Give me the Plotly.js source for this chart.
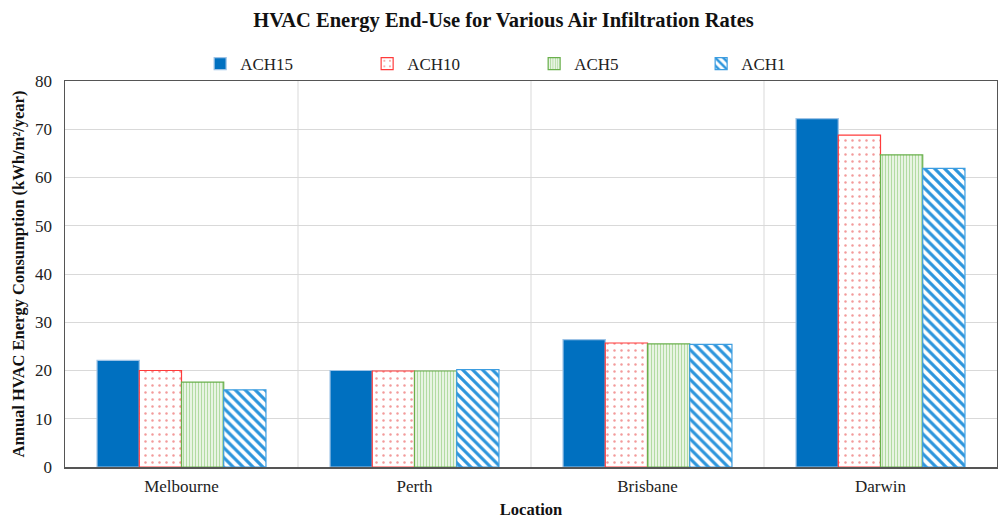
<!DOCTYPE html>
<html><head><meta charset="utf-8">
<script src="https://cdn.plot.ly/plotly-3.0.1.min.js"></script>
<style>body{margin:0;background:#fff}#c{width:998px;height:519px}</style>
</head><body><div id="c"></div>
<script>
const locations = ["Melbourne", "Perth", "Brisbane", "Darwin"];
const seriesNames = ["ACH15", "ACH10", "ACH5", "ACH1"];
const ach15 = [22.1, 20.0, 26.4, 72.2];
const ach10 = [20.0, 19.9, 25.7, 68.8];
const ach5  = [17.6, 19.9, 25.5, 64.7];
const ach1  = [16.0, 20.2, 25.4, 61.9];
const yTicks = [0, 10, 20, 30, 40, 50, 60, 70, 80];

const styles = [
  {color:'#0070C0', line:'#9dc3e6', pattern:null},
  {color:'#ffffff', line:'#ff3b3b', pattern:{shape:'.', fgcolor:'#f39a9a', bgcolor:'#ffffff', size:7, solidity:0.1}},
  {color:'#ffffff', line:'#6ab04c', pattern:{shape:'|', fgcolor:'#b2dba3', bgcolor:'#eef7ea', size:3, solidity:0.4}},
  {color:'#ffffff', line:'#3d9de0', pattern:{shape:'\\', fgcolor:'#2c95dc', bgcolor:'#ffffff', size:7, solidity:0.45}}
];
const vals = [ach15, ach10, ach5, ach1];
const traces = seriesNames.map((n,i)=>{
  const m = {color: styles[i].color, line:{color: styles[i].line, width:1.2}};
  if (styles[i].pattern) m.pattern = styles[i].pattern;
  return {type:'bar', name:n, x:locations, y:vals[i], marker:m};
});

const serif = 'Liberation Serif, Times New Roman, serif';
const layout = {
  width:998, height:519,
  margin:{l:65, r:1, t:81, b:52},
  paper_bgcolor:'#fff', plot_bgcolor:'#fff',
  font:{family:serif, size:17, color:'#222'},
  title:{text:'<b>HVAC Energy End-Use for Various Air Infiltration Rates</b>', x:0.5045, xanchor:'center', y:0.962, yanchor:'middle', font:{family:serif, size:20.5, color:'#111'}},
  barmode:'group', bargap:0.275, bargroupgap:0,
  legend:{orientation:'h', x:0.145, xanchor:'left', y:1.044, yanchor:'middle', entrywidth:122, bgcolor:'rgba(0,0,0,0)', font:{family:serif, size:17, color:'#222'}, itemwidth:30, traceorder:'normal'},
  xaxis:{
    type:'category', showgrid:false, showline:true, linecolor:'#555', linewidth:1.5, mirror:true,
    ticks:'', tickfont:{family:serif, size:17, color:'#222'}, ticklabelstandoff:3,
    title:{text:'<b>Location</b>', font:{family:serif, size:16.5, color:'#111'}, standoff:10}
  },
  yaxis:{
    range:[0,80], tickvals:yTicks, showgrid:true, gridcolor:'#d9d9d9', gridwidth:1,
    showline:true, linecolor:'#555', linewidth:1.5, mirror:true, zeroline:false,
    ticks:'', ticklen:0, tickfont:{family:serif, size:17, color:'#222'}, ticklabelstandoff:8,
    title:{text:'<b>Annual HVAC Energy Consumption (kWh/m²/year)</b>', font:{family:serif, size:16.5, color:'#111'}, standoff:6}
  },
  shapes: [1,2,3].map(k=>({type:'line', xref:'x', yref:'paper', x0:k-0.5, x1:k-0.5, y0:0, y1:1, line:{color:'#d9d9d9', width:1}, layer:'below'}))
};
Plotly.newPlot('c', traces, layout, {displayModeBar:false, staticPlot:true});
</script></body></html>
